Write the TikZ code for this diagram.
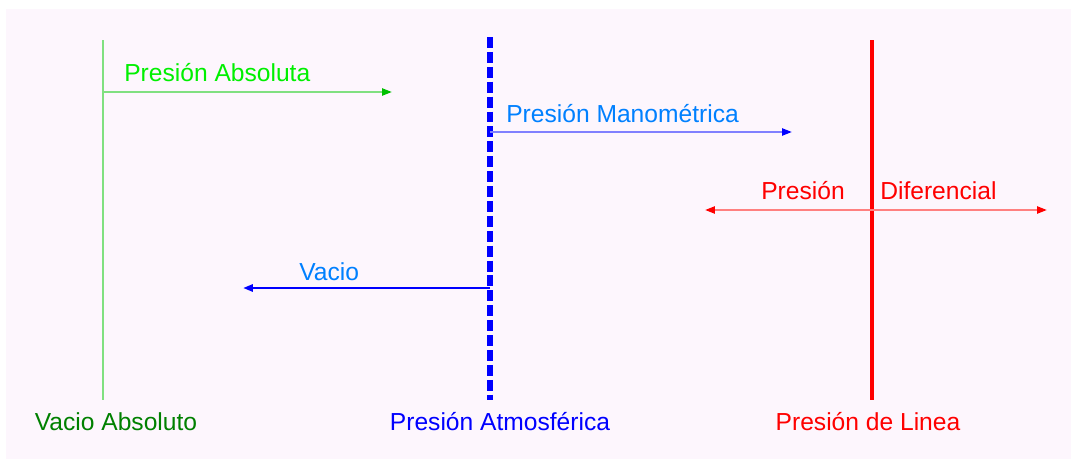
\documentclass[tikz,border=0pt]{standalone}
\usepackage{fontspec}
\setmainfont{Liberation Sans}
\usetikzlibrary{arrows.meta}

\definecolor{bgpink}{HTML}{FDF6FD}
\definecolor{lgreen}{HTML}{80E080}
\definecolor{bgreen}{HTML}{00F000}
\definecolor{dgreen}{HTML}{008000}
\definecolor{tgreen}{HTML}{00C000}
\definecolor{lblue}{HTML}{8080FF}
\definecolor{sblue}{HTML}{0080FF}
\definecolor{lred}{HTML}{FF8080}

\begin{document}
\begin{tikzpicture}[x=0.025cm, y=-0.025cm,
  lbl/.style={font=\fontsize{17.5}{20}\selectfont, inner sep=0pt},
  tipto/.style={-{Triangle[length=7pt,width=5pt,color=#1]}}]
  \useasboundingbox (0,0) rectangle (1073,461);
  \fill[bgpink] (6,9) rectangle (1071,459);

  \coordinate (Gt) at (103,40);
  \coordinate (Gb) at (103,400);
  \coordinate (Bt) at (490,37);
  \coordinate (Bb) at (490,400);
  \coordinate (Rt) at (872,40);
  \coordinate (Rb) at (872,400);

  % Vertical lines
  \draw[lgreen, line width=1.4pt] (Gt) -- (Gb);
  \draw[blue, line width=4pt, dash pattern=on 7.8pt off 2.8pt] (Bt) -- (Bb);
  \draw[red, line width=2.8pt] (Rt) -- (Rb);

  % Arrows
  \coordinate (G1) at (103,92);   \coordinate (G2) at (392,92);
  \coordinate (B1) at (490,132);  \coordinate (B2) at (792,132);
  \coordinate (V1) at (490,288);  \coordinate (V2) at (243,288);
  \coordinate (R1) at (705,210);  \coordinate (R2) at (1047,210);
  \draw[lgreen, line width=1.4pt, tipto=tgreen] (G1) -- (G2);
  \draw[lblue, line width=1.4pt, tipto=blue] (B1) -- (B2);
  \draw[blue, line width=2.1pt, tipto=blue] (V1) -- (V2);
  \draw[lred, line width=1.4pt, {Triangle[length=7pt,width=5pt,color=red]}-{Triangle[length=7pt,width=5pt,color=red]}] (R1) -- (R2);

  \node[lbl, bgreen, anchor=base west] (pabs) at (124,81) {Presión Absoluta};
  \node[lbl, sblue, anchor=base west] (pman) at (506,122) {Presión Manométrica};
  \node[lbl, sblue, anchor=base west] (vac) at (299,280) {Vacio};
  \node[lbl, red, anchor=base west] (pdif1) at (761,199) {Presión};
  \node[lbl, red, anchor=base west] (pdif2) at (880,199) {Diferencial};

  \node[lbl, dgreen, anchor=base] (vabs) at (116,430) {Vacio Absoluto};
  \node[lbl, blue, anchor=base] (patm) at (500,430) {Presión Atmosférica};
  \node[lbl, red, anchor=base] (plin) at (868,430) {Presión de Linea};

\end{tikzpicture}
\end{document}
